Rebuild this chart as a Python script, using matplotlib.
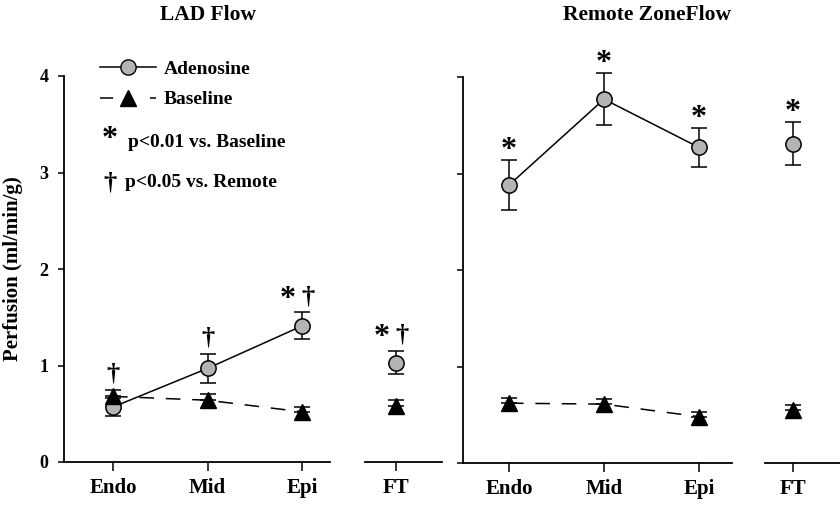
import numpy as np
import matplotlib
matplotlib.use('Agg')
import matplotlib.pyplot as plt
from matplotlib.lines import Line2D

plt.rcParams['font.family'] = 'Liberation Serif'
plt.rcParams['font.weight'] = 'bold'
plt.rcParams['axes.labelweight'] = 'bold'
plt.rcParams['lines.scale_dashes'] = False

# ── Data ─────────────────────────────────────────────────────────
layers = ['Endo', 'Mid', 'Epi']

# LAD flow
lad_ade = [0.57, 0.97, 1.41]
lad_ade_err = [0.09, 0.15, 0.14]
lad_base = [0.68, 0.64, 0.52]
lad_base_err = [0.07, 0.06, 0.05]
lad_ft_ade = [1.03]
lad_ft_ade_err = [0.12]
lad_ft_base = [0.58]
lad_ft_base_err = [0.06]
lad_marks = ['\u2020', '\u2020', '*\u2020']
lad_ft_marks = ['*\u2020']

# Remote zone flow
rem_ade = [2.88, 3.77, 3.27]
rem_ade_err = [0.26, 0.27, 0.20]
rem_base = [0.62, 0.61, 0.48]
rem_base_err = [0.05, 0.05, 0.05]
rem_ft_ade = [3.31]
rem_ft_ade_err = [0.22]
rem_ft_base = [0.55]
rem_ft_base_err = [0.05]
rem_marks = ['*', '*', '*']
rem_ft_marks = ['*']

GRAY = '#b4b4b4'
LW = 1.1
STAR_FS = 23
DAG_FS = 19


def noclip(cont):
    for art in cont.get_children():
        art.set_clip_on(False)


def mark(ax, m, xy):
    # asterisk and dagger side by side when both are present
    both = len(m) > 1
    if '*' in m:
        ax.annotate('*', xy, xytext=(-10 if both else 0, 4 if both else 1.5),
                    textcoords='offset points', ha='center', va='baseline',
                    fontsize=STAR_FS, annotation_clip=False)
    if '\u2020' in m:
        ax.annotate('\u2020', xy, xytext=(4 if both else 0, 3),
                    textcoords='offset points', ha='center', va='bottom',
                    fontsize=DAG_FS, annotation_clip=False)


def draw(ax, labels, ade, ade_err, base, base_err, marks):
    x = np.arange(len(labels))
    noclip(ax.errorbar(x, ade, yerr=ade_err, fmt='none', ecolor='k',
                       elinewidth=LW, capsize=5.5, capthick=LW, zorder=2))
    noclip(ax.errorbar(x, base, yerr=[np.zeros(len(base)), base_err],
                       fmt='none', ecolor='k', elinewidth=LW, capsize=5.5,
                       capthick=LW, zorder=2))
    ax.plot(x, ade, '-o', color='k', lw=LW, ms=11, mfc=GRAY, mec='k',
            mew=1.1, zorder=3, clip_on=False)
    ax.plot(x, base, ls=(0, (10.5, 8.5)), marker='^', color='k', lw=LW,
            ms=11, mfc='k', zorder=4, clip_on=False)
    for i, m in enumerate(marks):
        top = max(ade[i] + ade_err[i], base[i] + base_err[i])
        mark(ax, m, (x[i], top))


def style(ax, xlim, labels, yaxis=True):
    ax.set_xlim(*xlim)
    ax.set_ylim(0, 4)
    ax.spines['top'].set_visible(False)
    ax.spines['right'].set_visible(False)
    for sp in ax.spines.values():
        sp.set_linewidth(1.3)
    ax.set_xticks(np.arange(len(labels)), labels)
    ax.tick_params(axis='x', length=6.5, width=LW, pad=5, labelsize=15)
    ax.set_yticks([0, 1, 2, 3, 4])
    ax.tick_params(axis='y', length=4.3, width=LW, pad=7, labelsize=13)
    if not yaxis:
        ax.spines['left'].set_visible(False)
        ax.tick_params(axis='y', left=False, labelleft=False)
    ax.patch.set_alpha(0)


W, H = 840, 505
fig = plt.figure(figsize=(W / 100, H / 100), dpi=100)


def box(l, r, b=462, t=76):
    return [l / W, (H - b) / H, (r - l) / W, (b - t) / H]


ax1 = fig.add_axes(box(64, 330))
ax2 = fig.add_axes(box(365, 442))
ax3 = fig.add_axes(box(463, 732, b=463, t=77))
ax4 = fig.add_axes(box(765, 840, b=463, t=77))

draw(ax1, layers, lad_ade, lad_ade_err, lad_base, lad_base_err, lad_marks)
draw(ax2, ['FT'], lad_ft_ade, lad_ft_ade_err, lad_ft_base, lad_ft_base_err,
     lad_ft_marks)
draw(ax3, layers, rem_ade, rem_ade_err, rem_base, rem_base_err, rem_marks)
draw(ax4, ['FT'], rem_ft_ade, rem_ft_ade_err, rem_ft_base, rem_ft_base_err,
     rem_ft_marks)

style(ax1, (-0.519, 2.296), layers)
style(ax2, (-0.328, 0.487), ['FT'], yaxis=False)
style(ax3, (-0.484, 2.347), layers)
ax3.tick_params(axis='y', labelleft=False)
style(ax4, (-0.295, 0.495), ['FT'], yaxis=False)

ax1.set_ylabel('Perfusion (ml/min/g)', fontsize=15, fontweight='bold')
ax1.yaxis.set_label_coords(-0.155, 0.5)

# legend
h_a = Line2D([], [], color='k', lw=LW, marker='o', ms=11, mfc=GRAY, mec='k')
h_b = Line2D([], [], color='k', lw=LW, ls=(0, (9.5, 26.5)), marker='^',
             ms=11, mfc='k')
ax1.legend([h_a, h_b], ['Adenosine', 'Baseline'], loc='upper left',
           bbox_to_anchor=(0.135, 1.04), frameon=False, fontsize=14,
           handlelength=2.9, handletextpad=0.4, labelspacing=0.65,
           borderpad=0, borderaxespad=0)
ax1.text(0.173, 0.815, '*', transform=ax1.transAxes, fontsize=STAR_FS,
         ha='center', va='baseline')
ax1.text(0.241, 0.829, 'p<0.01 vs. Baseline', transform=ax1.transAxes,
         fontsize=14, ha='left', va='center')
ax1.text(0.173, 0.723, '\u2020', transform=ax1.transAxes, fontsize=DAG_FS,
         ha='center', va='center')
ax1.text(0.229, 0.723, 'p<0.05 vs. Remote', transform=ax1.transAxes,
         fontsize=14, ha='left', va='center')

fig.text(208 / W, 1 - 15 / H, 'LAD Flow', fontsize=15.5, ha='center',
         va='center')
fig.text(647 / W, 1 - 15 / H, 'Remote ZoneFlow', fontsize=15.5, ha='center',
         va='center')

fig.savefig('out.png', dpi=100)
